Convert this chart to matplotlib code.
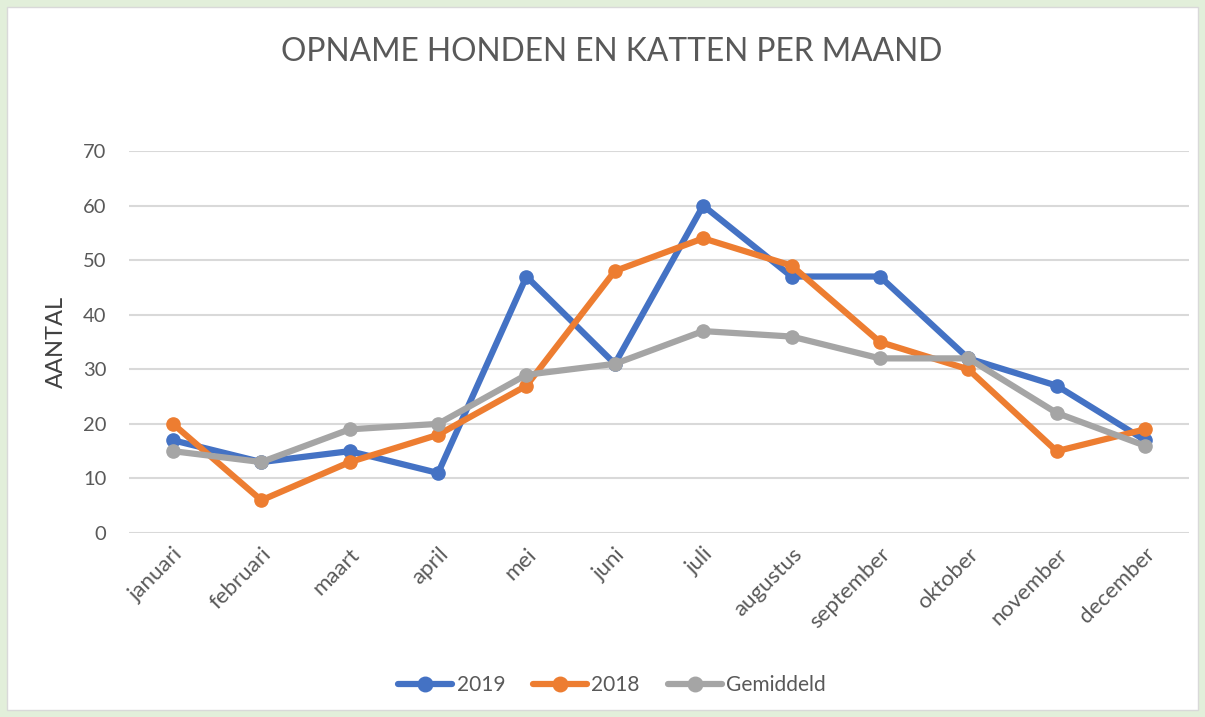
import matplotlib

matplotlib.use("Agg")
import matplotlib.pyplot as plt
from matplotlib.patches import Rectangle

months = ["januari", "februari", "maart", "april", "mei", "juni", "juli",
          "augustus", "september", "oktober", "november", "december"]
values_2019 = [17, 13, 15, 11, 47, 31, 60, 47, 47, 32, 27, 17]
values_2018 = [20, 6, 13, 18, 27, 48, 54, 49, 35, 30, 15, 19]
values_avg = [15, 13, 19, 20, 29, 31, 37, 36, 32, 32, 22, 16]
y_ticks = [0, 10, 20, 30, 40, 50, 60, 70]

plt.rcParams["font.family"] = ["Lato", "DejaVu Sans"]
text_color = "#595959"

fig = plt.figure(figsize=(12.05, 7.17), dpi=100)
fig.patch.set_facecolor("#E2EFDA")
panel = Rectangle((0.006, 0.01), 0.988, 0.98, transform=fig.transFigure,
                  facecolor="white", edgecolor="#D9D9D9", linewidth=1, zorder=-1)
fig.add_artist(panel)

ax = fig.add_axes([0.1069, 0.2566, 0.88, 0.5328])
ax.set_facecolor("none")
ax.set_zorder(1)

x = list(range(len(months)))
series = [
    ("2019", values_2019, "#4472C4"),
    ("2018", values_2018, "#ED7D31"),
    ("Gemiddeld", values_avg, "#A5A5A5"),
]
for label, vals, color in series:
    ax.plot(x, vals, color=color, linewidth=4.5, marker="o", markersize=9.5,
            solid_capstyle="round", solid_joinstyle="round", label=label, zorder=3)

ax.set_xlim(-0.5, len(months) - 0.5)
ax.set_ylim(0, 70)
ax.set_yticks(y_ticks)
ax.set_xticks(x)
ax.set_xticklabels(months, rotation=45, ha="right", va="top", rotation_mode="anchor",
                   fontsize=16, color=text_color)
ax.tick_params(axis="y", labelsize=14.5, colors=text_color, length=0, pad=16)
ax.tick_params(axis="x", length=0, pad=8)
ax.grid(True, axis="y", color="#D9D9D9", linewidth=1.5)
ax.set_axisbelow(True)
for side in ax.spines.values():
    side.set_visible(False)

ax.set_ylabel("AANTAL", fontsize=17, color="#404040", labelpad=12)

fig.text(0.508, 0.927, "OPNAME HONDEN EN KATTEN PER MAAND", ha="center", va="center",
         fontsize=22.9, color=text_color)

fig.legend(loc="center", bbox_to_anchor=(0.508, 0.044), ncol=3, frameon=False,
           fontsize=15, handlelength=2.6, handletextpad=0.2, columnspacing=1.35,
           labelcolor=text_color, markerscale=1.1)

fig.savefig("out.png", dpi=100)
